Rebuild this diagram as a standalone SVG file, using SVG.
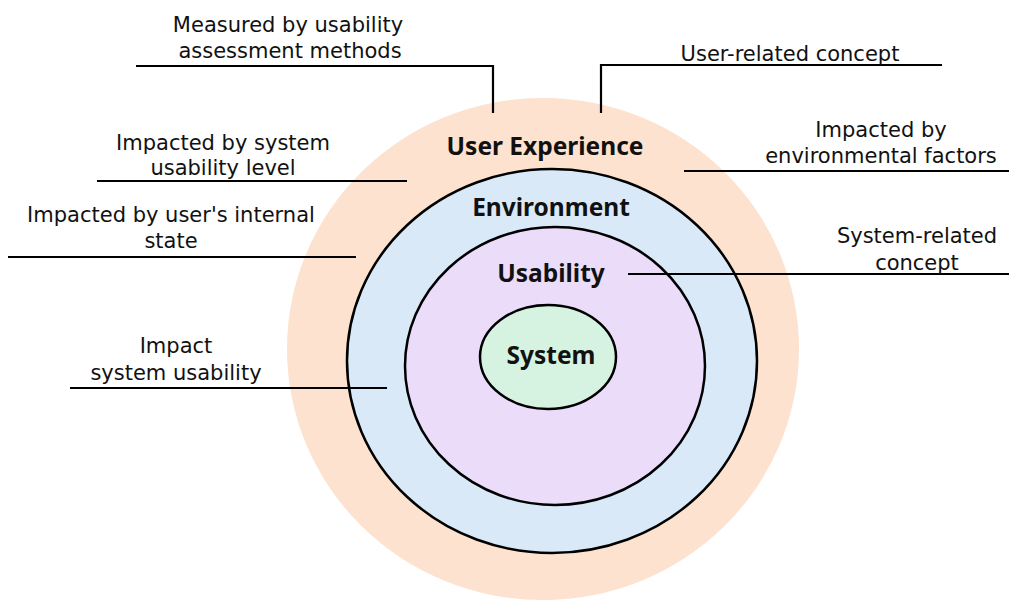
<svg xmlns="http://www.w3.org/2000/svg" width="1009" height="604" viewBox="0 0 1009 604">
  <style>
    .ring { stroke: #000; stroke-width: 2.5; }
    .title { font-family: "Noto Sans", "Open Sans", sans-serif; font-weight: bold; font-size: 24.5px; fill: #111; text-anchor: middle; }
    .note { font-family: "DejaVu Sans", "Noto Sans", sans-serif; font-size: 21px; fill: #111; text-anchor: middle; }
    .leader { fill: none; stroke: #000; stroke-width: 2.2; }
  </style>
  <rect width="1009" height="604" fill="#fff"/>

  <!-- nested concept rings -->
  <g id="user-experience">
    <ellipse cx="543" cy="349" rx="256" ry="251" fill="#fce2cf"/>
    <text class="title" x="545" y="155">User Experience</text>
  </g>
  <g id="environment">
    <ellipse class="ring" cx="552" cy="361" rx="205" ry="192" fill="#dae9f8"/>
    <text class="title" x="551" y="216">Environment</text>
  </g>
  <g id="usability">
    <ellipse class="ring" cx="555" cy="366" rx="150" ry="139" fill="#ebdcfa"/>
    <text class="title" x="551" y="282">Usability</text>
  </g>
  <g id="system">
    <ellipse class="ring" cx="548" cy="357" rx="68" ry="52" fill="#d6f2e1"/>
    <text class="title" x="551" y="364">System</text>
  </g>

  <!-- annotation leader lines -->
  <g id="connectors">
    <path class="leader" d="M136,66 H493 V113"/>
    <path class="leader" d="M942,65 H601 V113"/>
    <path class="leader" d="M684,171 H1009"/>
    <path class="leader" d="M97,181 H407"/>
    <path class="leader" d="M8,257 H356"/>
    <path class="leader" d="M628,274 H1009"/>
    <path class="leader" d="M70,388 H387"/>
  </g>

  <!-- annotations (two-line notes use tspans) -->
  <g id="note-measured">
    <text class="note"><tspan x="288" y="32">Measured by usability</tspan><tspan x="290" y="58">assessment methods</tspan></text>
  </g>
  <g id="note-user-related">
    <text class="note" x="790" y="61">User-related concept</text>
  </g>
  <g id="note-environmental">
    <text class="note"><tspan x="881" y="137">Impacted by</tspan><tspan x="881" y="163">environmental factors</tspan></text>
  </g>
  <g id="note-system-level">
    <text class="note"><tspan x="223" y="150">Impacted by system</tspan><tspan x="223" y="175">usability level</tspan></text>
  </g>
  <g id="note-internal-state">
    <text class="note"><tspan x="171" y="222">Impacted by user's internal</tspan><tspan x="171" y="248">state</tspan></text>
  </g>
  <g id="note-system-related">
    <text class="note"><tspan x="917" y="243">System-related</tspan><tspan x="917" y="270">concept</tspan></text>
  </g>
  <g id="note-impact">
    <text class="note"><tspan x="176" y="353">Impact</tspan><tspan x="176" y="380">system usability</tspan></text>
  </g>
</svg>
